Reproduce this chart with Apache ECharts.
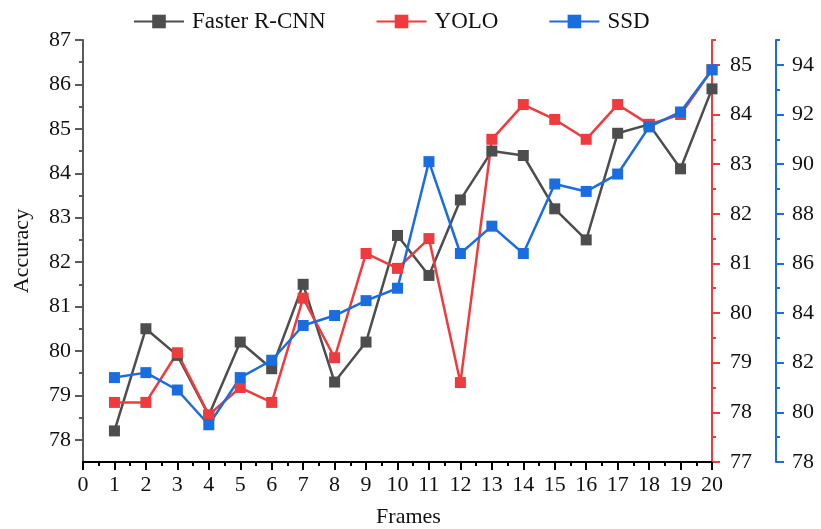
<!DOCTYPE html>
<html>
<head>
<meta charset="utf-8">
<script src="https://cdn.jsdelivr.net/npm/echarts@6/dist/echarts.min.js"></script>
<style>
  html, body { margin: 0; padding: 0; background: #fff; }
  #chartData { width: 821px; height: 529px; }
</style>
</head>
<body>
<div id="chartData"></div>
<script>
// data
var frames = [1, 2, 3, 4, 5, 6, 7, 8, 9, 10, 11, 12, 13, 14, 15, 16, 17, 18, 19, 20];
var fasterRcnn = [78.2, 80.5, 79.9, 78.55, 80.2, 79.6, 81.5, 79.3, 80.2, 82.6, 81.7, 83.4, 84.5, 84.4, 83.2, 82.5, 84.9, 85.1, 84.1, 85.9];
var yolo = [78.2, 78.2, 79.2, 77.95, 78.5, 78.2, 80.3, 79.1, 81.2, 80.9, 81.5, 78.6, 83.5, 84.2, 83.9, 83.5, 84.2, 83.8, 84.0, 84.9];
var ssd = [81.4, 81.6, 80.9, 79.5, 81.4, 82.1, 83.5, 83.9, 84.5, 85.0, 90.1, 86.4, 87.5, 86.4, 89.2, 88.9, 89.6, 91.5, 92.1, 93.8];

// tick labels
var leftTicks = [78, 79, 80, 81, 82, 83, 84, 85, 86, 87];
var leftMinor = [78.5, 79.5, 80.5, 81.5, 82.5, 83.5, 84.5, 85.5, 86.5];
var redTicks = [77, 78, 79, 80, 81, 82, 83, 84, 85];
var redMinor = [77.5, 78.5, 79.5, 80.5, 81.5, 82.5, 83.5, 84.5, 85.5];
var blueTicks = [78, 80, 82, 84, 86, 88, 90, 92, 94];
var blueMinor = [79, 81, 83, 85, 87, 89, 91, 93, 95];

var grey = '#4d4d4d', red = '#ef3b3d', blue = '#1a6ddf';
var font = 'Liberation Serif';

function pairs(vals) {
  return frames.map(function (f, i) { return [f, vals[i]]; });
}

function mainAxis(pos, offset, min, max, interval, color, ticks, labelColor, margin) {
  return {
    type: 'value', position: pos, offset: offset, min: min, max: max, interval: interval,
    axisLine: { show: true, lineStyle: { color: color, width: 2 } },
    axisTick: { show: true, length: 8, customValues: ticks, lineStyle: { color: color, width: 2 } },
    axisLabel: { customValues: ticks, color: labelColor, fontFamily: font, fontSize: 22, margin: margin },
    splitLine: { show: false }
  };
}
function minorAxis(pos, offset, min, max, interval, color, ticks) {
  return {
    type: 'value', position: pos, offset: offset, min: min, max: max, interval: interval,
    axisLine: { show: false },
    axisTick: { show: true, length: 4, customValues: ticks, lineStyle: { color: color, width: 2 } },
    axisLabel: { show: false },
    splitLine: { show: false }
  };
}

var myChart = echarts.init(document.getElementById('chartData'));
var yAxes = [
  mainAxis('left', 0, 77.5, 87, 0.5, '#5a5a5a', leftTicks, '#111', 12),
  minorAxis('left', 0, 77.5, 87, 0.5, '#5a5a5a', leftMinor),
  mainAxis('right', 0, 77, 85.5, 0.5, red, redTicks, '#111', 18),
  minorAxis('right', 0, 77, 85.5, 0.5, red, redMinor),
  mainAxis('right', 64, 78, 95, 1, blue, blueTicks, '#111', 16),
  minorAxis('right', 64, 78, 95, 1, blue, blueMinor)
];
yAxes[0].name = 'Accuracy';
yAxes[0].nameLocation = 'middle';
yAxes[0].nameGap = 50;
yAxes[0].nameTextStyle = { color: '#111', fontFamily: font, fontSize: 22 };

function lineSeries(name, vals, color, axisIdx) {
  return {
    name: name, type: 'line', yAxisIndex: axisIdx, data: pairs(vals),
    symbol: 'rect', symbolSize: 11,
    lineStyle: { color: color, width: 2.5 },
    itemStyle: { color: color },
    emphasis: { disabled: true }
  };
}

var option = {
  animation: false,
  grid: { left: 83, right: 109, top: 40, bottom: 67, outerBoundsMode: 'none' },
  legend: {
    left: 128, top: 5,
    itemWidth: 50, itemHeight: 17, itemGap: 50,
    textStyle: { color: '#111', fontFamily: font, fontSize: 23, padding: [0, 0, 0, 3] },
    data: ['Faster R-CNN', 'YOLO', 'SSD']
  },
  xAxis: {
    type: 'value', min: 0, max: 20, interval: 1,
    name: 'Frames', nameLocation: 'middle', nameGap: 44,
    nameTextStyle: { color: '#111', fontFamily: font, fontSize: 22, padding: [0, 0, 0, 22] },
    axisLine: { show: true, onZero: false, lineStyle: { color: '#000', width: 2 } },
    axisTick: { show: true, length: 8, lineStyle: { color: '#000', width: 2 } },
    minorTick: { show: true, splitNumber: 2, length: 4, lineStyle: { color: '#000', width: 2 } },
    axisLabel: { color: '#111', fontFamily: font, fontSize: 22, margin: 12 },
    splitLine: { show: false }
  },
  yAxis: yAxes,
  series: [
    lineSeries('Faster R-CNN', fasterRcnn, grey, 0),
    lineSeries('YOLO', yolo, red, 2),
    lineSeries('SSD', ssd, blue, 4)
  ]
};
myChart.setOption(option, true);
</script>
</body>
</html>
